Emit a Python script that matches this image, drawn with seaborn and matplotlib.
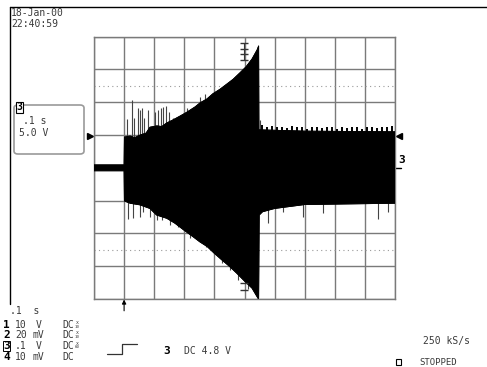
import numpy as np
import matplotlib
matplotlib.use("Agg")
import matplotlib.pyplot as plt
from matplotlib.patches import FancyBboxPatch, Rectangle
from matplotlib.lines import Line2D
import seaborn as sns

# waveform envelope, channel 3 (time in s, volts)
upper_t = [-0.1, 0.0, 0.001, 0.02, 0.035, 0.053, 0.073, 0.086, 0.109, 0.125, 0.142,
           0.162, 0.186, 0.209, 0.236, 0.252, 0.275, 0.295, 0.319, 0.342, 0.362,
           0.385, 0.405, 0.425, 0.442, 0.447, 0.448, 0.6, 0.9]
upper_v = [0.45, 0.45, 4.7, 4.85, 4.6, 5.0, 5.3, 6.2, 6.4, 6.3, 6.85,
           7.3, 7.9, 8.5, 9.3, 9.9, 10.5, 11.3, 12.0, 12.8, 13.5,
           14.5, 15.4, 16.6, 18.0, 18.6, 5.8, 5.6, 5.5]
lower_t = [-0.1, 0.0, 0.001, 0.02, 0.053, 0.086, 0.108, 0.142, 0.169, 0.199, 0.229,
           0.252, 0.276, 0.299, 0.325, 0.352, 0.375, 0.402, 0.425, 0.445, 0.447,
           0.449, 0.46, 0.5, 0.6, 0.9]
lower_v = [-0.45, -0.45, -5.05, -5.4, -5.65, -6.2, -7.2, -7.7, -8.45, -9.5, -10.5,
           -11.3, -12.0, -13.0, -14.05, -15.1, -16.1, -17.35, -18.35, -19.9, -19.9,
           -7.2, -6.7, -6.2, -5.6, -5.4]

# isolated spikes sticking out of the envelope
spike_up_t = [0.009, 0.025, 0.034, 0.045, 0.053, 0.06, 0.067, 0.08, 0.103, 0.114,
              0.123, 0.13, 0.139, 0.15, 0.161, 0.208, 0.252, 0.269, 0.45]
spike_up_v = [7.4, 10.4, 7.6, 9.1, 8.8, 9.1, 7.6, 8.8, 8.5, 8.8,
              9.1, 9.3, 9.4, 8.5, 7.6, 9.1, 10.8, 11.3, 7.3]
spike_dn_t = [0.012, 0.029, 0.053, 0.064, 0.086, 0.108, 0.125, 0.152, 0.18, 0.219,
              0.252, 0.272, 0.324, 0.352, 0.379, 0.413, 0.479, 0.529, 0.595, 0.662,
              0.845, 0.878]
spike_dn_v = [-7.85, -7.7, -7.45, -6.7, -7.45, -7.95, -7.95, -8.7, -8.95, -10.7,
              -11.0, -12.0, -14.55, -15.6, -17.1, -18.4, -8.45, -6.7, -7.45, -6.9,
              -7.85, -6.7]
tooth_t = [0.457, 0.474, 0.49, 0.507, 0.524, 0.54, 0.557, 0.574, 0.59, 0.607,
           0.624, 0.64, 0.657, 0.674, 0.69, 0.707, 0.724, 0.74, 0.757, 0.774,
           0.79, 0.807, 0.824, 0.84, 0.857, 0.874, 0.89]
tooth_v = [6.5, 6.3, 6.4, 6.2, 6.3, 6.1, 6.4, 6.2, 6.3, 6.0,
           6.3, 6.2, 6.1, 6.3, 6.2, 6.0, 6.3, 6.1, 6.2, 6.3,
           6.0, 6.2, 6.3, 6.1, 6.2, 6.3, 6.4]

cursor_t = 0.398
cursor_top_v = [19.0, 18.2, 17.3, 16.5]
cursor_bot_v = [-17.6, -18.6]
trig_level = 4.8

# channel setup text
ch_ids = ["1", "2", "3", "4"]
ch_scale = ["10", "20", ".1", "10"]
ch_unit = ["V", "mV", "V", "mV"]
ch_coupling = ["DC", "DC", "DC", "DC"]
ch_probe = ["10", "10", "60", ""]

W, H = 487, 367
sns.set_style("white")
plt.rcParams["font.family"] = ["DejaVu Sans Mono"]
TXT = "#3a3a3a"
GRID = "#7a7a7a"


def fx(x):
    return x / W


def fy(y):
    return 1 - y / H


fig = plt.figure(figsize=(W / 100, H / 100), dpi=100)
ax = fig.add_axes([fx(94), fy(299), (395 - 94) / W, (299 - 36.7) / H])
ax.set_xlim(-0.1, 0.9)
ax.set_ylim(-20, 20)
ax.set_xticks(np.arange(-0.1, 0.91, 0.1))
ax.set_yticks(np.arange(-20, 21, 5))
ax.grid(True, color=GRID, lw=1.0)
ax.tick_params(length=0, labelbottom=False, labelleft=False)
for s in ax.spines.values():
    s.set_color(GRID)
    s.set_linewidth(1.0)

for yv in (12.5, -12.5):
    ax.axhline(yv, color="#9a9a9a", lw=0.8, ls=(0, (1, 3)), zorder=1)

# waveform
poly_t = np.concatenate([upper_t, lower_t[::-1]])
poly_v = np.concatenate([upper_v, lower_v[::-1]])
ax.fill(poly_t, poly_v, color="black", lw=0.6, zorder=3)
sns.lineplot(x=upper_t, y=upper_v, ax=ax, color="black", lw=0.6, zorder=3, sort=False)
sns.lineplot(x=lower_t, y=lower_v, ax=ax, color="black", lw=0.6, zorder=3, sort=False)
ax.vlines(spike_up_t, 0, spike_up_v, color="#444444", lw=0.8, zorder=2.9)
ax.vlines(spike_dn_t, 0, spike_dn_v, color="#444444", lw=0.8, zorder=2.9)
ax.vlines(tooth_t, 0, tooth_v, color="black", lw=1.4, zorder=2.9)

# cursor marks
ax.plot([cursor_t, cursor_t], [cursor_top_v[0], cursor_top_v[-1]], color="#333333", lw=0.8, zorder=4)
ax.plot([cursor_t] * 4, cursor_top_v, ls="none", marker="_", ms=6, color="#333333", zorder=4)
ax.plot([cursor_t] * 2, cursor_bot_v, ls="none", marker="_", ms=6, color="#333333", zorder=4)

# trigger level / ground markers
blend = ax.get_yaxis_transform()
ax.plot([-0.012], [trig_level], marker=">", ms=4, color="black", transform=blend, clip_on=False)
ax.plot([1.012], [trig_level], marker="<", ms=4, color="black", transform=blend, clip_on=False)
ax.plot([1.0, 1.02], [0, 0], color="black", lw=1.0, transform=blend, clip_on=False)
ax.annotate("", xy=(0.0, -0.002), xytext=(0.0, -0.045), xycoords=ax.get_xaxis_transform(),
            arrowprops=dict(arrowstyle="-|>", color="black", lw=0.8, mutation_scale=6,
                            shrinkA=0, shrinkB=0))

# outer frame
fig.add_artist(Line2D([fx(10), 1], [fy(6.5), fy(6.5)], color="black", lw=1.0))
fig.add_artist(Line2D([fx(10), fx(10)], [fy(6.5), fy(304)], color="black", lw=1.0))
fig.text(fx(11), fy(13.5), "18-Jan-00", fontsize=7, color=TXT, va="center")
fig.text(fx(11), fy(24), "22:40:59", fontsize=7, color=TXT, va="center")
fig.text(fx(398), fy(160), "3", fontsize=8, color="black", va="center", fontweight="bold")

# left info box
fig.add_artist(FancyBboxPatch((fx(14), fy(154)), (84 - 14) / W, (154 - 105) / H,
                              boxstyle="round,pad=0,rounding_size=0.008",
                              transform=fig.transFigure, fc="white", ec="#9a9a9a", lw=1.2))
fig.text(fx(16.5), fy(107.5), "3", fontsize=7, color="black", va="center", fontweight="bold",
         bbox=dict(boxstyle="square,pad=0.05", fc="white", ec="black", lw=0.8))
fig.text(fx(23), fy(120.5), ".1 s", fontsize=7, color=TXT, va="center")
fig.text(fx(19), fy(132.5), "5.0 V", fontsize=7, color=TXT, va="center")

# bottom status lines
fig.text(fx(10), fy(311), ".1  s", fontsize=7, color=TXT, va="center")
row_y = [325, 335.5, 346, 356.5]
for i, yy in enumerate(row_y):
    kw = {}
    if ch_ids[i] == "3":
        kw["bbox"] = dict(boxstyle="square,pad=0.02", fc="white", ec="black", lw=0.7)
    fig.text(fx(3.5), fy(yy), ch_ids[i], fontsize=8, color="black", va="center",
             fontweight="bold", **kw)
    fig.text(fx(15), fy(yy), ch_scale[i], fontsize=7, color=TXT, va="center")
    fig.text(fx(38.5), fy(yy), ch_unit[i], fontsize=7, color=TXT, va="center", ha="center")
    fig.text(fx(62), fy(yy), ch_coupling[i], fontsize=7, color=TXT, va="center")
    if ch_probe[i]:
        fig.text(fx(77.5), fy(yy - 2.5), "x", fontsize=3.5, color=TXT, va="center", ha="center")
        fig.text(fx(77.5), fy(yy + 1.5), ch_probe[i], fontsize=3, color=TXT, va="center", ha="center")

# trigger info
fig.add_artist(Line2D([fx(107), fx(122), fx(122), fx(137)],
                      [fy(353.5), fy(353.5), fy(343.5), fy(343.5)], color="#333333", lw=0.9))
fig.text(fx(163.5), fy(351.5), "3", fontsize=8, color="black", va="center", fontweight="bold")
fig.text(fx(184), fy(351.5), "DC 4.8 V", fontsize=7, color=TXT, va="center")
fig.text(fx(423), fy(341), "250 kS/s", fontsize=7, color=TXT, va="center")
fig.add_artist(Rectangle((fx(396), fy(365)), 5 / W, 6 / H, transform=fig.transFigure,
                         fc="white", ec="black", lw=0.8))
fig.text(fx(419), fy(362.5), "STOPPED", fontsize=6.5, color=TXT, va="center")

fig.savefig("out.png", dpi=100)
